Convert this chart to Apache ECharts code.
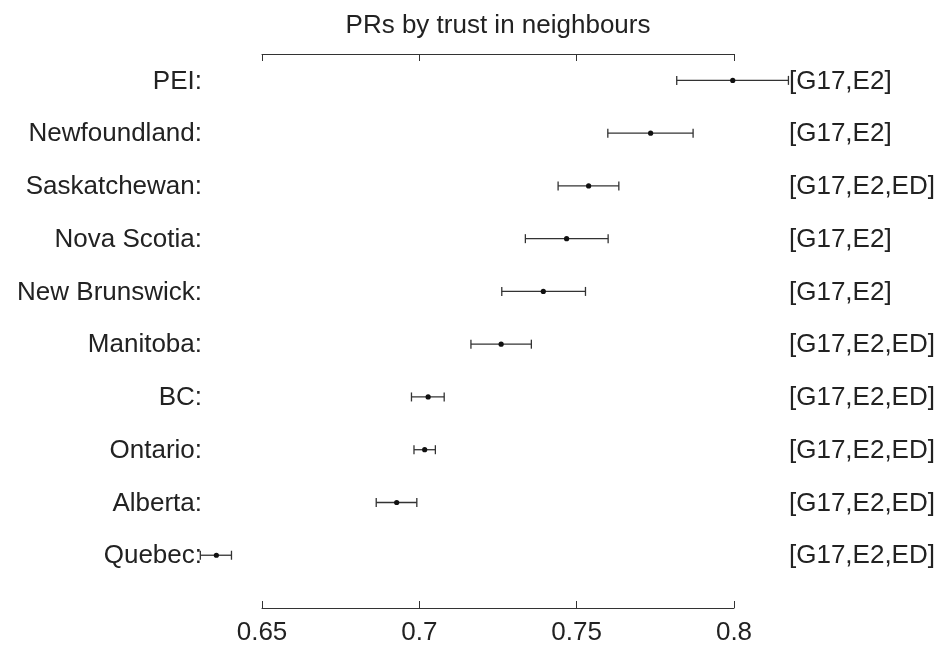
<!DOCTYPE html>
<html>
<head>
<meta charset="utf-8">
<title>PRs by trust in neighbours</title>
<script src="https://cdn.jsdelivr.net/npm/echarts@6/dist/echarts.min.js"></script>
<style>
  html, body { margin: 0; padding: 0; background: #fff; }
  #chart { width: 943px; height: 649px; }
</style>
</head>
<body>
<div id="chart"></div>
<script>
// Province rows, top to bottom
const provinces = ['PEI:', 'Newfoundland:', 'Saskatchewan:', 'Nova Scotia:', 'New Brunswick:',
                   'Manitoba:', 'BC:', 'Ontario:', 'Alberta:', 'Quebec:'];
// Point estimates and interval bounds
const estimates = [0.7996, 0.7735, 0.7538, 0.7468, 0.7394, 0.7260, 0.7028, 0.7017, 0.6928, 0.6355];
const lower     = [0.7818, 0.7599, 0.7441, 0.7337, 0.7262, 0.7164, 0.6975, 0.6983, 0.6863, 0.6304];
const upper     = [0.8173, 0.7870, 0.7634, 0.7600, 0.7528, 0.7356, 0.7079, 0.7051, 0.6992, 0.6403];
// Group tags shown to the right of each row
const groups = ['[G17,E2]', '[G17,E2]', '[G17,E2,ED]', '[G17,E2]', '[G17,E2]',
                '[G17,E2,ED]', '[G17,E2,ED]', '[G17,E2,ED]', '[G17,E2,ED]', '[G17,E2,ED]'];
// Axis ticks
const xTicks = [0.65, 0.7, 0.75, 0.8];
const xTickLabels = ['0.65', '0.7', '0.75', '0.8'];

const FONT = '"Liberation Sans", Arial, Helvetica, sans-serif';
const INK = '#222';
const LINE = '#333';

const rows = provinces.map((name, i) => [lower[i], estimates[i], upper[i], i + 1]);

const chart = echarts.init(document.getElementById('chart'), null, { renderer: 'canvas' });

const axisCommon = {
  type: 'value',
  min: xTicks[0],
  max: xTicks[xTicks.length - 1],
  interval: 0.05,
  splitLine: { show: false },
  axisLine: { show: true, lineStyle: { color: LINE, width: 1 } },
  axisTick: { show: true, inside: true, length: 7, lineStyle: { color: LINE, width: 1 } }
};

chart.setOption({
  animation: false,
  backgroundColor: '#fff',
  title: {
    text: 'PRs by trust in neighbours',
    left: 498,
    top: 13,
    padding: 0,
    textAlign: 'center',
    textStyle: { fontFamily: FONT, fontSize: 26, fontWeight: 'normal', color: INK }
  },
  grid: { left: 262, right: 209, top: 54, bottom: 41, containLabel: false },
  xAxis: [
    Object.assign({}, axisCommon, {
      position: 'bottom',
      axisLabel: {
        show: true, margin: 12,
        fontFamily: FONT, fontSize: 26, color: INK,
        formatter: v => {
          const k = xTicks.findIndex(t => Math.abs(t - v) < 1e-9);
          return k >= 0 ? xTickLabels[k] : '';
        }
      }
    }),
    Object.assign({}, axisCommon, {
      position: 'top',
      axisLabel: { show: false }
    })
  ],
  yAxis: {
    type: 'value',
    inverse: true,
    min: 0.5,
    max: 11,
    show: false
  },
  series: [{
    type: 'custom',
    clip: false,
    xAxisIndex: 0,
    data: rows,
    encode: { x: [0, 1, 2], y: 3 },
    renderItem: (params, api) => {
      const i = params.dataIndex;
      const y = api.value(3);
      const pLo = api.coord([api.value(0), y]);
      const pMid = api.coord([api.value(1), y]);
      const pHi = api.coord([api.value(2), y]);
      const xLeft = api.coord([xTicks[0], y])[0];
      const xRight = api.coord([xTicks[xTicks.length - 1], y])[0];
      const cap = 4.5;
      const ls = { stroke: LINE, lineWidth: 1.3 };
      return {
        type: 'group',
        children: [
          { type: 'line', shape: { x1: pLo[0], y1: pLo[1], x2: pHi[0], y2: pHi[1] }, style: ls },
          { type: 'line', shape: { x1: pLo[0], y1: pLo[1] - cap, x2: pLo[0], y2: pLo[1] + cap }, style: ls },
          { type: 'line', shape: { x1: pHi[0], y1: pHi[1] - cap, x2: pHi[0], y2: pHi[1] + cap }, style: ls },
          { type: 'circle', shape: { cx: pMid[0], cy: pMid[1], r: 2.6 }, style: { fill: '#111' } },
          {
            type: 'text',
            style: {
              x: xLeft - 60, y: pMid[1] + 1, text: provinces[i],
              align: 'right', verticalAlign: 'middle',
              font: '26px ' + FONT, fill: INK
            }
          },
          {
            type: 'text',
            style: {
              x: xRight + 55, y: pMid[1] + 1, text: groups[i],
              align: 'left', verticalAlign: 'middle',
              font: '26px ' + FONT, fill: INK
            }
          }
        ]
      };
    }
  }]
});
</script>
</body>
</html>
